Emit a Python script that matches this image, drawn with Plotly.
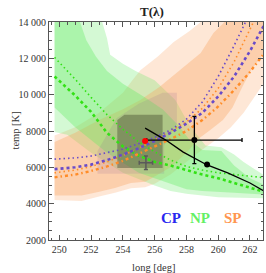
import plotly.graph_objects as go

# ---------------- data ----------------
X_GRID = [249.7, 251, 252, 253, 254, 255, 256, 257, 258, 259, 260, 261, 262, 263]

CP_DOT = [6450, 6520, 6620, 6800, 7000, 7300, 7650, 8050, 8650, 9600, 11000, 12700, 14500, 16300]
CP_DASH = [5900, 6000, 6150, 6400, 6700, 7050, 7450, 7900, 8400, 9000, 9900, 11000, 12400, 14000]
SP_DOT = [5700, 5850, 6050, 6300, 6650, 7050, 7500, 8000, 8500, 9250, 10350, 11800, 13600, 15400]
SP_DASH = [5450, 5600, 5800, 6050, 6350, 6750, 7150, 7550, 8000, 8600, 9350, 10250, 11250, 12400]
NP_DOT = [12050, 10850, 9850, 8900, 8100, 7400, 6850, 6400, 6050, 5850, 5700, 5600, 5500, 5420]
NP_DASH = [11000, 9950, 9050, 7900, 7150, 6650, 6300, 6100, 5850, 5600, 5400, 5150, 4900, 4620]

# NP (north) uncertainty regions
NP_OUT_UP_X = [249.7, 252.7, 253.0, 253.2, 254.0, 254.8, 256.0, 257.3, 258.2, 259.2, 260.2, 261.0, 261.6, 262.3, 263.0]
NP_OUT_UP_Y = [14000, 14000, 13100, 12200, 11700, 11300, 10800, 9700, 8300, 7200, 7100, 6700, 6300, 5900, 5500]
NP_OUT_LO_X = [263.0, 260.0, 258.0, 257.0, 256.0, 254.0, 252.0, 250.5, 249.7]
NP_OUT_LO_Y = [4300, 4350, 4550, 4700, 5000, 5700, 6800, 7800, 7950]
NP_IN_UP_X = [249.7, 251.3, 251.7, 252.3, 253.0, 254.0, 255.3, 256.5, 257.5, 258.2, 259.0, 260.2, 261.0, 262.0, 263.0]
NP_IN_UP_Y = [14000, 14000, 13000, 12100, 11300, 10600, 9900, 9200, 8300, 7500, 6950, 6900, 6100, 5400, 5000]
NP_IN_LO_X = [263.0, 261.0, 259.0, 258.0, 257.0, 255.0, 253.0, 251.0, 249.7]
NP_IN_LO_Y = [4500, 4600, 4700, 4800, 5100, 5700, 6800, 8200, 9300]

# SP (south) uncertainty regions
SP_OUT_UP_X = [249.7, 251.0, 252.5, 254.0, 254.6, 255.1, 256.2, 257.2, 258.2, 258.9, 263.0]
SP_OUT_UP_Y = [7750, 8200, 9000, 10100, 10800, 11350, 12100, 12900, 13500, 14000, 14000]
SP_OUT_LO_X = [263.0, 262.3, 261.6, 260.8, 260.0, 259.2, 258.0, 257.0, 256.0, 255.4, 254.5, 253.5, 252.5, 251.4, 249.7]
SP_OUT_LO_Y = [10800, 9900, 9000, 8200, 7600, 7100, 6300, 5600, 5100, 4900, 4850, 4600, 4400, 4150, 4200]
SP_IN_UP_X = [249.7, 251.0, 252.5, 254.0, 255.1, 256.3, 257.6, 258.9, 259.7, 260.4, 263.0]
SP_IN_UP_Y = [7400, 7900, 8600, 9200, 9700, 10420, 11360, 12290, 13390, 14000, 14000]
SP_IN_LO_X = [263.0, 262.1, 261.5, 260.9, 260.3, 259.5, 258.8, 258.0, 257.0, 256.0, 255.4, 254.5, 253.5, 252.45, 251.4, 249.7]
SP_IN_LO_Y = [12400, 11400, 10400, 9300, 8600, 8050, 7600, 6800, 6000, 5500, 5200, 5140, 4860, 4640, 4450, 4450]

# CP (centre) uncertainty regions
CP_OUT_X = [252.4, 252.4, 253.6, 255.0, 256.5, 257.4, 257.4, 256.6, 256.6]
CP_OUT_Y = [5650, 6900, 8700, 9500, 10100, 10100, 8400, 7200, 5650]
CP_IN_X = [253.65, 253.65, 254.1, 256.5, 256.5]
CP_IN_Y = [5960, 8600, 8900, 8900, 5960]

# fit curve and measurements
FIT_X = [255.4, 256.7, 257.8, 259.3, 260.6, 262.0, 263.0]
FIT_Y = [8160, 7500, 6840, 6130, 5690, 5140, 4640]
FIT_DOT_X = [259.3]
FIT_DOT_Y = [6150]
MEAS_X = [258.5]
MEAS_Y = [7500]
MEAS_XERR = [3.0]
MEAS_YERR = [1300]
RED_X = [255.4]
RED_Y = [7450]
GREY_X = [255.45]
GREY_Y = [6250]
GREY_XERR = [0.42]
GREY_YERR = [370]

Y_TICKS = [2000, 4000, 6000, 8000, 10000, 12000, 14000]
Y_TICK_TEXT = ["2000", "4000", "6000", "8000", "10 000", "12 000", "14 000"]

LABELS = ["CP", "NP", "SP"]
LABEL_X = [257.0, 258.85, 260.9]
LABEL_Y = [3200, 3200, 3200]

# ---------------- figure ----------------
fig = go.Figure()


def region(xs, ys, color):
    fig.add_trace(go.Scatter(x=xs, y=ys, fill="toself", fillcolor=color, mode="none",
                             hoverinfo="skip", showlegend=False))


region(SP_OUT_UP_X + SP_OUT_LO_X, SP_OUT_UP_Y + SP_OUT_LO_Y, "rgba(250,160,90,0.25)")
region(NP_OUT_UP_X + NP_OUT_LO_X, NP_OUT_UP_Y + NP_OUT_LO_Y, "rgba(100,235,100,0.28)")
region(SP_IN_UP_X + SP_IN_LO_X, SP_IN_UP_Y + SP_IN_LO_Y, "rgba(250,160,90,0.34)")
region(NP_IN_UP_X + NP_IN_LO_X, NP_IN_UP_Y + NP_IN_LO_Y, "rgba(100,235,100,0.36)")
region(CP_OUT_X, CP_OUT_Y, "rgba(140,100,150,0.16)")
region(CP_IN_X, CP_IN_Y, "rgba(60,65,40,0.40)")

PURPLE = "rgb(105,75,200)"
ORANGE = "rgb(255,140,40)"
GREEN = "rgb(50,225,20)"


def curve(ys, color, dash, width):
    fig.add_trace(go.Scatter(x=X_GRID, y=ys, mode="lines", showlegend=False, hoverinfo="skip",
                             line=dict(color=color, dash=dash, width=width)))


curve(NP_DOT, GREEN, "1.5px,3px", 1.6)
curve(NP_DASH, GREEN, "3px,3px", 2.6)
curve(SP_DOT, ORANGE, "1.5px,3px", 1.6)
curve(SP_DASH, ORANGE, "3px,3px,1.5px,3px", 2.4)
curve(CP_DOT, PURPLE, "1.5px,3px", 1.6)
curve(CP_DASH, PURPLE, "3px,3px", 2.6)

fig.add_trace(go.Scatter(x=FIT_X, y=FIT_Y, mode="lines", showlegend=False, hoverinfo="skip",
                         line=dict(color="black", width=1.3)))
fig.add_trace(go.Scatter(x=FIT_DOT_X, y=FIT_DOT_Y, mode="markers", showlegend=False, hoverinfo="skip",
                         marker=dict(color="black", size=6)))
fig.add_trace(go.Scatter(x=MEAS_X, y=MEAS_Y, mode="markers", showlegend=False, hoverinfo="skip",
                         marker=dict(color="black", size=6),
                         error_x=dict(type="data", array=MEAS_XERR, color="black", thickness=1.3, width=2),
                         error_y=dict(type="data", array=MEAS_YERR, color="black", thickness=1.3, width=2)))
fig.add_trace(go.Scatter(x=GREY_X, y=GREY_Y, mode="markers", showlegend=False, hoverinfo="skip",
                         marker=dict(color="rgb(90,90,90)", size=2),
                         error_x=dict(type="data", array=GREY_XERR, color="rgb(90,90,90)", thickness=1.5, width=2),
                         error_y=dict(type="data", array=GREY_YERR, color="rgb(90,90,90)", thickness=1.5, width=2)))
fig.add_trace(go.Scatter(x=RED_X, y=RED_Y, mode="markers", showlegend=False, hoverinfo="skip",
                         marker=dict(color="red", size=6)))

LABEL_COLORS = ["rgb(40,40,240)", "rgb(100,240,100)", "rgb(255,150,80)"]
for t, lx, ly, c in zip(LABELS, LABEL_X, LABEL_Y, LABEL_COLORS):
    fig.add_annotation(x=lx, y=ly, text="<b>%s</b>" % t, showarrow=False,
                       font=dict(family="Liberation Serif", size=15, color=c))

SERIF = "Liberation Serif"
AX = "#555"
fig.update_xaxes(range=[249.35, 262.82], tickmode="linear", tick0=250, dtick=2,
                 ticks="inside", ticklen=5, tickwidth=1, tickcolor=AX,
                 showline=True, linecolor=AX, linewidth=1, mirror="ticks",
                 showgrid=False, zeroline=False,
                 minor=dict(tick0=250, dtick=0.5, ticks="inside", ticklen=2.5, tickcolor=AX, showgrid=False),
                 tickfont=dict(family=SERIF, size=10, color="#333"))
fig.update_yaxes(range=[2000, 14000], tickmode="array", tickvals=Y_TICKS, ticktext=Y_TICK_TEXT,
                 ticks="inside", ticklen=5, tickwidth=1, tickcolor=AX,
                 showline=True, linecolor=AX, linewidth=1, mirror="ticks",
                 showgrid=False, zeroline=False,
                 minor=dict(tickmode="linear", tick0=2000, dtick=500, ticks="inside", ticklen=2.5,
                            tickcolor=AX, showgrid=False),
                 tickfont=dict(family=SERIF, size=10, color="#333"))

fig.add_annotation(xref="paper", yref="paper", x=0.481, y=1, yshift=11, yanchor="middle",
                   text="<b>T(λ)</b>", showarrow=False,
                   font=dict(family=SERIF, size=13, color="#222"))
fig.add_annotation(xref="paper", yref="paper", x=0.49, y=0, yshift=-27, yanchor="middle",
                   text="long [deg]", showarrow=False,
                   font=dict(family=SERIF, size=10.5, color="#333"))
fig.add_annotation(xref="paper", yref="paper", x=0, xshift=-42, y=0.5, textangle=-90,
                   text="temp [K]", showarrow=False,
                   font=dict(family=SERIF, size=10.5, color="#333"))

fig.update_layout(width=266, height=273, margin=dict(l=49, r=3, t=22, b=33),
                  paper_bgcolor="white", plot_bgcolor="white", showlegend=False,
                  hovermode=False, dragmode=False)

fig.write_html("out.html", config={"displayModeBar": False, "staticPlot": True},
               post_script="document.body.style.margin='0';document.body.style.overflow='hidden';")
